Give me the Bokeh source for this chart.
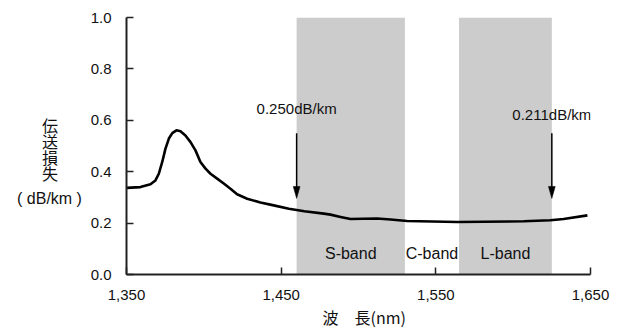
from bokeh.plotting import figure
from bokeh.layouts import row
from bokeh.models import (Range1d, FixedTicker, NumeralTickFormatter, PrintfTickFormatter,
                          LabelSet, Label, ColumnDataSource, Title)
from bokeh.core.properties import value
from bokeh.embed import file_html
from bokeh.resources import INLINE

# ---- data ----
wavelength = [1350, 1359, 1365.5, 1368.7, 1370.9, 1373.1, 1375.2, 1377.4, 1379.6, 1382.3,
              1384.9, 1388.1, 1391.4, 1394.6, 1397.8, 1401.1, 1404.3, 1408.6, 1412.9, 1417.2,
              1421.5, 1428, 1436.6, 1445.2, 1455, 1465, 1477.6, 1481.9, 1488.4, 1494.8,
              1512, 1520.7, 1531.4, 1563.8, 1606.9, 1624, 1632.6, 1648]
loss = [0.337, 0.340, 0.351, 0.366, 0.392, 0.438, 0.490, 0.529, 0.550, 0.561,
        0.557, 0.541, 0.515, 0.483, 0.438, 0.412, 0.392, 0.373, 0.354, 0.334,
        0.312, 0.295, 0.280, 0.269, 0.256, 0.246, 0.237, 0.233, 0.224, 0.216,
        0.218, 0.214, 0.208, 0.204, 0.207, 0.211, 0.216, 0.230]

band_names = ["S-band", "C-band", "L-band"]
band_left = [1460, 1530, 1565]
band_right = [1530, 1565, 1625]
band_shaded = [True, False, True]
band_label_y = 0.08

arrow_x = [1460, 1625]
arrow_top = [0.55, 0.55]
arrow_tip = [0.296, 0.296]
arrow_labels = ["0.250dB/km", "0.211dB/km"]
arrow_label_y = [0.645, 0.622]

x_ticks = [1350, 1450, 1550, 1650]
y_ticks = [0.0, 0.2, 0.4, 0.6, 0.8, 1.0]

x_title = "波　長(nm)"
y_title_chars = ["伝", "送", "損", "失"]
y_title_unit = "( dB/km )"

X0, X1 = 1350, 1650
Y0, Y1 = 0.0, 1.0

LATIN = "Liberation Sans"
CJK = "Noto Sans CJK JP"
INK = "#111111"

W, H = 618, 330
SIDE_W = 87
TOP, BOTTOM = 17, 274
FW, FH = 464, 257

# ---- side panel holding the stacked y title (its frame aligns with the main frame) ----
side = figure(width=SIDE_W, height=H, output_backend="svg", toolbar_location=None,
              x_range=Range1d(0, SIDE_W), y_range=Range1d(BOTTOM, TOP),
              x_axis_location=None, y_axis_location=None,
              min_border=0, min_border_left=0, min_border_right=0,
              min_border_top=TOP, min_border_bottom=H - BOTTOM)
side.outline_line_color = None
side.grid.visible = False
side.background_fill_color = "white"
side.border_fill_color = "white"
char_src = ColumnDataSource(dict(x=[49.5] * len(y_title_chars),
                                 y=[124 + 16.2 * i for i in range(len(y_title_chars))],
                                 t=y_title_chars))
side.add_layout(LabelSet(x="x", y="y", text="t", source=char_src, text_align="center",
                         text_baseline="middle", text_font=value(CJK),
                         text_font_size=value("16px"), text_color=INK))
side.add_layout(Label(x=49, y=197.5, text=y_title_unit, text_align="center",
                      text_baseline="middle", text_font=LATIN, text_font_size="16px",
                      text_color=INK))

# ---- main chart ----
p = figure(width=W - SIDE_W, height=H, output_backend="svg", toolbar_location=None,
           x_range=Range1d(X0, X1), y_range=Range1d(Y0, Y1),
           min_border_left=126 - SIDE_W, min_border_right=28, min_border_top=TOP,
           min_border_bottom=H - BOTTOM)
p.outline_line_color = None
p.grid.visible = False
p.background_fill_color = "white"
p.border_fill_color = "white"

# shaded bands
sl = [l for l, s in zip(band_left, band_shaded) if s]
sr = [r for r, s in zip(band_right, band_shaded) if s]
p.quad(left=sl, right=sr, bottom=[Y0] * len(sl), top=[Y1] * len(sl),
       fill_color="#cccccc", line_color=None)

# band labels
band_src = ColumnDataSource(dict(x=[(l + r) / 2 for l, r in zip(band_left, band_right)],
                                 y=[band_label_y] * len(band_names), t=band_names))
p.add_layout(LabelSet(x="x", y="y", text="t", source=band_src, text_align="center",
                      text_baseline="middle", text_font=value(LATIN),
                      text_font_size=value("16px"), text_color=INK))

# loss curve
p.line(wavelength, loss, line_color="black", line_width=2.6, line_join="round")

# arrows
head_len = 12 * (Y1 - Y0) / FH
head_hw = 3.4 * (X1 - X0) / FW
p.segment(x0=arrow_x, y0=arrow_top, x1=arrow_x, y1=[t + head_len * 0.8 for t in arrow_tip],
          line_color="black", line_width=1.5)
p.patches(xs=[[x - head_hw, x, x + head_hw] for x in arrow_x],
          ys=[[t + head_len, t, t + head_len] for t in arrow_tip],
          fill_color="black", line_color="black", line_width=0.5)
arr_src = ColumnDataSource(dict(x=arrow_x, y=arrow_label_y, t=arrow_labels))
p.add_layout(LabelSet(x="x", y="y", text="t", source=arr_src, text_align="center",
                      text_baseline="middle", text_font=value(LATIN),
                      text_font_size=value("15px"), text_color=INK))

# axes
for ax in (p.xaxis[0], p.yaxis[0]):
    ax.axis_line_width = 2
    ax.axis_line_color = "#222222"
    ax.major_tick_line_color = "#222222"
    ax.major_tick_line_width = 1.5
    ax.major_tick_in = 7
    ax.major_tick_out = 0
    ax.minor_tick_line_color = None
    ax.major_label_text_font = LATIN
    ax.major_label_text_font_size = "15px"
    ax.major_label_text_color = INK
    ax.major_label_standoff = 15

p.xaxis.ticker = FixedTicker(ticks=x_ticks)
p.xaxis.formatter = NumeralTickFormatter(format="0,0")
p.yaxis.ticker = FixedTicker(ticks=y_ticks)
p.yaxis.formatter = PrintfTickFormatter(format="%.1f")

# x title
p.add_layout(Title(text=x_title, align="left", offset=196, text_font=CJK,
                   text_font_size="16px", text_font_style="normal", text_color=INK,
                   standoff=0), "below")

open("out.html", "w").write(file_html(row(side, p), INLINE))
